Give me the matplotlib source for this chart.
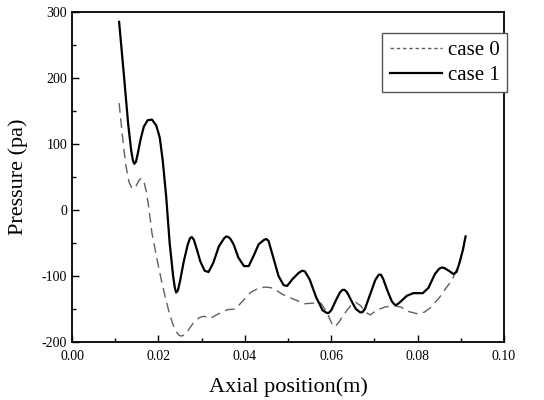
import matplotlib
matplotlib.use("Agg")
import matplotlib.pyplot as plt
from matplotlib.lines import Line2D
from matplotlib.ticker import MultipleLocator, FormatStrFormatter

plt.rcParams.update({
    "font.family": ["Liberation Serif", "DejaVu Serif"],
    "font.size": 10,
})

# case 1 (solid)
x1 = [0.0109, 0.0120, 0.0130, 0.0137, 0.0141, 0.0144, 0.0148, 0.0153, 0.0158, 0.0166,
      0.0175, 0.0185, 0.0195, 0.0203, 0.0210, 0.0218, 0.0226, 0.0234, 0.0238, 0.0241,
      0.0245, 0.0250, 0.0258, 0.0268, 0.0273, 0.0277, 0.0282, 0.0290, 0.0297, 0.0307,
      0.0316, 0.0327, 0.0340, 0.0352, 0.0357, 0.0362, 0.0367, 0.0374, 0.0385, 0.0398,
      0.0409, 0.0420, 0.0432, 0.0445, 0.0450, 0.0455, 0.0465, 0.0478, 0.0490, 0.0498,
      0.0510, 0.0525, 0.0533, 0.0539, 0.0550, 0.0565, 0.0580, 0.0590, 0.0594, 0.0600,
      0.0610, 0.0620, 0.0626, 0.0631, 0.0637, 0.0647, 0.0657, 0.0667, 0.0672, 0.0678,
      0.0690, 0.0702, 0.0710, 0.0715, 0.0720, 0.0730, 0.0740, 0.0746, 0.0750, 0.0755,
      0.0762, 0.0775, 0.0790, 0.0812, 0.0825, 0.0840, 0.0850, 0.0856, 0.0862, 0.0872,
      0.0883, 0.0890, 0.0897, 0.0905, 0.0911]
p1 = [285, 205, 130, 90, 75, 70, 73, 88, 105, 126,
      136, 137, 128, 110, 75, 20, -50, -100, -118, -125,
      -122, -108, -80, -52, -43, -41, -45, -62, -78, -92,
      -94, -80, -55, -43, -40, -41, -44, -52, -72, -85,
      -85, -70, -52, -45, -44, -47, -70, -100, -114, -115,
      -105, -95, -92, -93, -105, -132, -152, -156, -156, -152,
      -138, -125, -121, -121, -125, -138, -150, -155, -155, -150,
      -128, -106, -98, -98, -104, -122, -138, -143, -144, -142,
      -138, -130, -126, -126, -118, -97, -89, -87, -88, -92,
      -97, -94, -80, -60, -40]

# case 0 (dashed)
x0 = [0.0109, 0.0117, 0.0124, 0.0132, 0.0138, 0.0143, 0.0148, 0.0155, 0.0160, 0.0166,
      0.0172, 0.0178, 0.0185, 0.0199, 0.0208, 0.0217, 0.0226, 0.0235, 0.0242, 0.0248,
      0.0254, 0.0260, 0.0268, 0.0280, 0.0295, 0.0305, 0.0320, 0.0340, 0.0360, 0.0378,
      0.0395, 0.0413, 0.0430, 0.0445, 0.0453, 0.0462, 0.0470, 0.0485, 0.0501, 0.0520,
      0.0539, 0.0560, 0.0576, 0.0590, 0.0600, 0.0605, 0.0610, 0.0618, 0.0627, 0.0645,
      0.0657, 0.0668, 0.0680, 0.0690, 0.0705, 0.0724, 0.0745, 0.0761, 0.0780, 0.0798,
      0.0815, 0.0830, 0.0850, 0.0866, 0.0880, 0.0895, 0.0905, 0.0910]
p0 = [162, 110, 70, 42, 34, 32, 36, 45, 48, 44,
      28, 2, -35, -82, -110, -135, -158, -176, -185, -190,
      -191, -189, -183, -172, -163, -161, -164, -157, -151, -150,
      -138, -125, -119, -117, -117, -118, -120, -127, -132, -137,
      -142, -141, -141, -155, -170, -176, -176, -170, -160, -145,
      -140, -145, -155, -159, -152, -147, -145, -147, -154, -157,
      -155, -148, -133, -118, -106, -83, -60, -42]

fig = plt.figure(figsize=(5.44, 4.00), dpi=100)
ax = fig.add_axes([0.1324, 0.145, 0.7941, 0.825])

ax.plot(x0, p0, color="#606060", lw=1.0, dashes=(7, 4))
ax.plot(x1, p1, color="black", lw=1.6)

ax.set_xlim(0, 0.10)
ax.set_ylim(-200, 300)
ax.xaxis.set_major_locator(MultipleLocator(0.02))
ax.xaxis.set_minor_locator(MultipleLocator(0.01))
ax.yaxis.set_major_locator(MultipleLocator(100))
ax.yaxis.set_minor_locator(MultipleLocator(50))
ax.xaxis.set_major_formatter(FormatStrFormatter("%.2f"))
ax.yaxis.set_major_formatter(FormatStrFormatter("%d"))
ax.tick_params(which="both", direction="in", top=False, right=False, width=1.0)
ax.tick_params(which="major", length=5, labelsize=10)
ax.tick_params(axis="x", which="major", pad=6)
ax.tick_params(which="minor", length=3)
for s in ax.spines.values():
    s.set_linewidth(1.3)

ax.set_xlabel("Axial position(m)", fontsize=16, labelpad=10)
ax.set_ylabel("Pressure (pa)", fontsize=16, labelpad=10)

handles = [
    Line2D([], [], color="#606060", lw=1.0, dashes=(2.5, 2)),
    Line2D([], [], color="black", lw=1.6),
]
leg = ax.legend(handles, ["case 0", "case 1"], loc="upper right",
                bbox_to_anchor=(1.007, 0.935), borderaxespad=0.0,
                fontsize=15, fancybox=False, framealpha=1,
                handlelength=2.5, handletextpad=0.3, labelspacing=0.25,
                borderpad=0.35)
leg.get_frame().set_edgecolor("#555555")
leg.get_frame().set_linewidth(1.0)

fig.savefig("out.png", dpi=100)
